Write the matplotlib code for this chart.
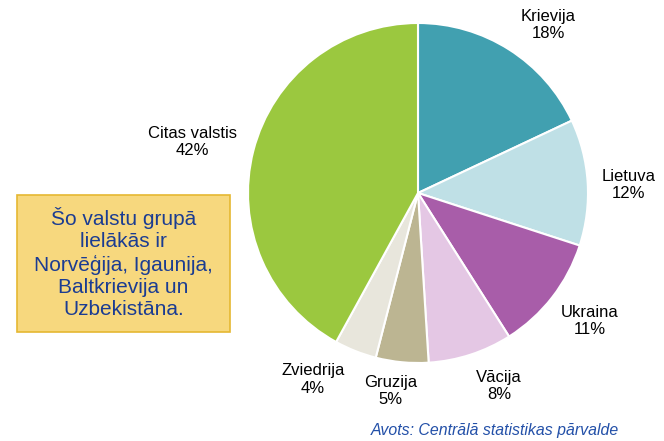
import numpy as np
import matplotlib.pyplot as plt
from matplotlib.patches import Rectangle

plt.rcParams['font.family'] = ['Liberation Sans', 'DejaVu Sans']

countries = ["Krievija", "Lietuva", "Ukraina", "Vācija", "Gruzija", "Zviedrija", "Citas valstis"]
shares = [18, 12, 11, 8, 5, 4, 42]
colors = ["#41a0b0", "#bfe0e6", "#a85da9", "#e4c7e4", "#bcb592", "#e8e6dc", "#9bc83f"]

note = "Šo valstu grupā\nlielākās ir\nNorvēģija, Igaunija,\nBaltkrievija un\nUzbekistāna."
source = "Avots: Centrālā statistikas pārvalde"

# label placement tweaks (angle nudge in degrees, distance in radii)
label_nudge = [-5.4, -1.4, 1.1, 4.8, -2.6, -7.8, 1.6]
label_dist = [1.25, 1.24, 1.26, 1.23, 1.175, 1.26, 1.36]

W, H = 664, 441
fig = plt.figure(figsize=(W / 100, H / 100), dpi=100)

# pie centre ~ (418, 193) px, radius ~170 px
cx, cy, r = 418, 193, 170
ax = fig.add_axes([(cx - r) / W, (H - cy - r) / H, 2 * r / W, 2 * r / H])

labels = [f"{c}\n{v}%" for c, v in zip(countries, shares)]
wedges, texts = ax.pie(
    shares, labels=labels, colors=colors, startangle=90, counterclock=False,
    labeldistance=1.25,
    wedgeprops=dict(edgecolor="white", linewidth=1.5),
    textprops=dict(ha="center", va="center", fontsize=12, color="black",
                   multialignment="center", linespacing=1.2),
)
for w, t, dn, d in zip(wedges, texts, label_nudge, label_dist):
    ang = np.deg2rad((w.theta1 + w.theta2) / 2 + dn)
    t.set_position((d * np.cos(ang), d * np.sin(ang)))

ax.set_xlim(-1, 1)
ax.set_ylim(-1, 1)
ax.set_aspect("equal")

# yellow note box
bx0, by0, bx1, by1 = 17, 195, 230, 332
fig.patches.append(Rectangle((bx0 / W, 1 - by1 / H), (bx1 - bx0) / W, (by1 - by0) / H,
                             transform=fig.transFigure, facecolor="#f7d87e",
                             edgecolor="#e5b832", linewidth=1.2))
fig.text((bx0 + bx1) / 2 / W, 1 - 263 / H, note, ha="center", va="center",
         fontsize=15, color="#1b3c92", linespacing=1.2, multialignment="center")

fig.text(619 / W, 1 - 431 / H, source, ha="right", va="center", fontsize=11.4,
         style="italic", color="#2350a8")

fig.savefig("out.png", dpi=100)
